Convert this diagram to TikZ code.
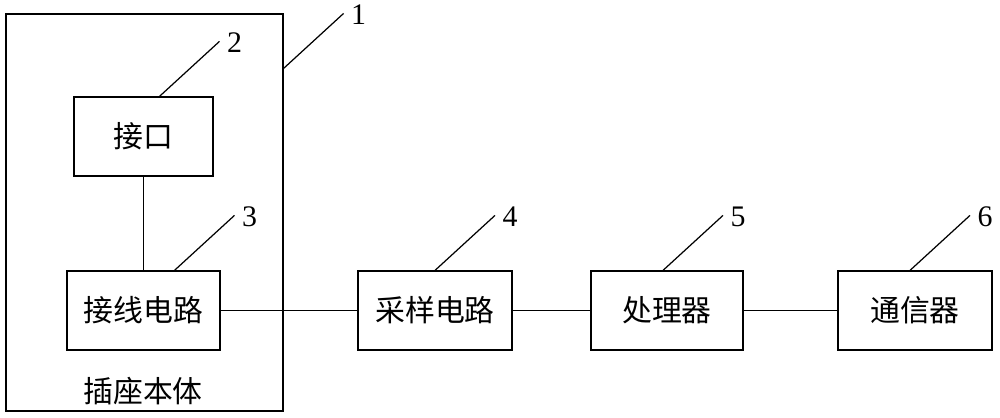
\documentclass[tikz,border=0pt]{standalone}
\usepackage{fontspec}
\setmainfont{Liberation Serif}
\newfontfamily\cjk{Noto Sans CJK SC}
\usetikzlibrary{calc}
\tikzset{
  block/.style={
    rectangle,
    draw=black, line width=0.7pt,
    minimum height=1.58cm,
    inner sep=0pt,
    font=\cjk\fontsize{17}{17}\selectfont},
  caption/.style={font=\cjk\fontsize{17}{17}\selectfont, inner sep=0pt},
  leader/.style={draw, line width=0.7pt},
  num/.style={anchor=west, inner sep=0pt, xshift=0.14cm, yshift=-0.03cm,
    font=\fontsize{17}{17}\selectfont},
}
\begin{document}
\begin{tikzpicture}[x=0.02cm,y=-0.02cm]
\useasboundingbox (0,0) rectangle (1000,418);
% socket body
\node[block, minimum width=5.54cm, minimum height=7.94cm] (socket) at (144.5,212.5) {};
\node[caption] (socketname) at (143,391) {插座本体};
\node[block, minimum width=2.78cm] (jiekou) at (143.5,136.5) {接口};
\node[block, minimum width=3.06cm] (jiexian) at (143.5,310.5) {接线电路};
% signal chain
\node[block, minimum width=3.08cm] (caiyang) at (435,310.5) {采样电路};
\node[block, minimum width=3.04cm] (chuli) at (667,310.5) {处理器};
\node[block, minimum width=3.08cm] (tongxin) at (915,310.5) {通信器};
\draw[line width=0.7pt] (jiekou) -- (jiexian);
\draw[line width=0.7pt] (jiexian) -- (caiyang);
\draw[line width=0.7pt] (caiyang) -- (chuli);
\draw[line width=0.7pt] (chuli) -- (tongxin);
% reference numbers
\coordinate (tip1) at ($(socket.north east)+(60,0)$);
\draw[leader] ($(socket.north east)+(0,55)$) -- (tip1) node[num] {1};
\foreach \blk/\dx/\num in {jiekou/16/2, jiexian/31/3, caiyang/0/4, chuli/-4/5, tongxin/-5/6}{
  \coordinate (tip\num) at ($(\blk.north)+(\dx+60,-55)$);
  \draw[leader] ($(\blk.north)+(\dx,0)$) -- (tip\num) node[num] {\num};
}
\end{tikzpicture}
\end{document}
